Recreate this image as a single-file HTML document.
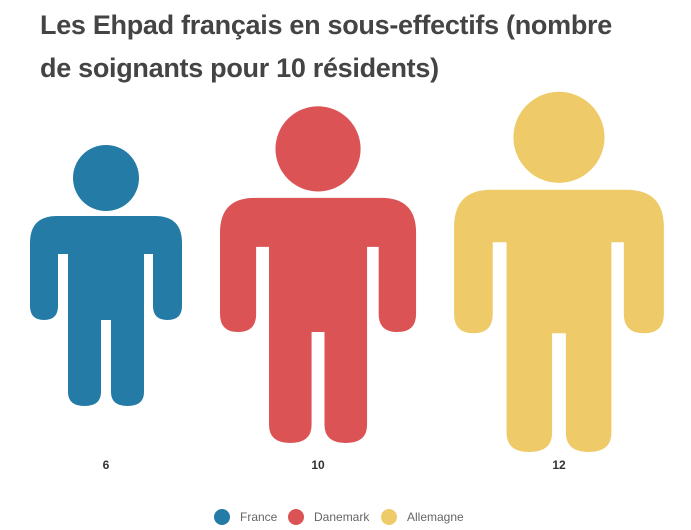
<!DOCTYPE html>
<html><head><meta charset="utf-8"><style>
body{margin:0;background:#fff;width:691px;height:530px;overflow:hidden;font-family:"Liberation Sans",sans-serif}
h1{position:absolute;left:40px;top:4px;margin:0;font-size:27px;line-height:43px;font-weight:bold;color:#444;white-space:nowrap;letter-spacing:-0.3px}
</style></head><body>
<h1>Les Ehpad français en sous-effectifs (nombre<br>de soignants pour 10 résidents)</h1>
<svg width="691" height="530" style="position:absolute;left:0;top:0">
<defs>
<g id="p">
<circle cx="76" cy="33" r="33"/>
<path d="M0,98 Q0,71 27,71 L125,71 Q152,71 152,98 L152,161 Q152,175 137.5,175 Q123,175 123,161 L123,109 L114,109 L114,247 Q114,261 97.5,261 Q81,261 81,247 L81,175 L71,175 L71,247 Q71,261 54.5,261 Q38,261 38,247 L38,109 L28,109 L28,161 Q28,175 14,175 Q0,175 0,161 Z"/>
</g>
</defs>
<use href="#p" fill="#247ba6" transform="translate(30,145)"/>
<use href="#p" fill="#dc5356" transform="translate(220,106.3) scale(1.29)"/>
<use href="#p" fill="#eecb68" transform="translate(454.1,91.8) scale(1.38)"/>
<g font-size="12" font-weight="bold" fill="#333" text-anchor="middle">
<text x="106" y="469">6</text><text x="318" y="469">10</text><text x="559" y="469">12</text>
</g>
<g font-size="12" fill="#666">
<circle cx="222" cy="517" r="8" fill="#247ba6"/><text x="240" y="521">France</text>
<circle cx="296" cy="517" r="8" fill="#dc5356"/><text x="314" y="521">Danemark</text>
<circle cx="389" cy="517" r="8" fill="#eecb68"/><text x="407" y="521">Allemagne</text>
</g>
</svg>
</body></html>
